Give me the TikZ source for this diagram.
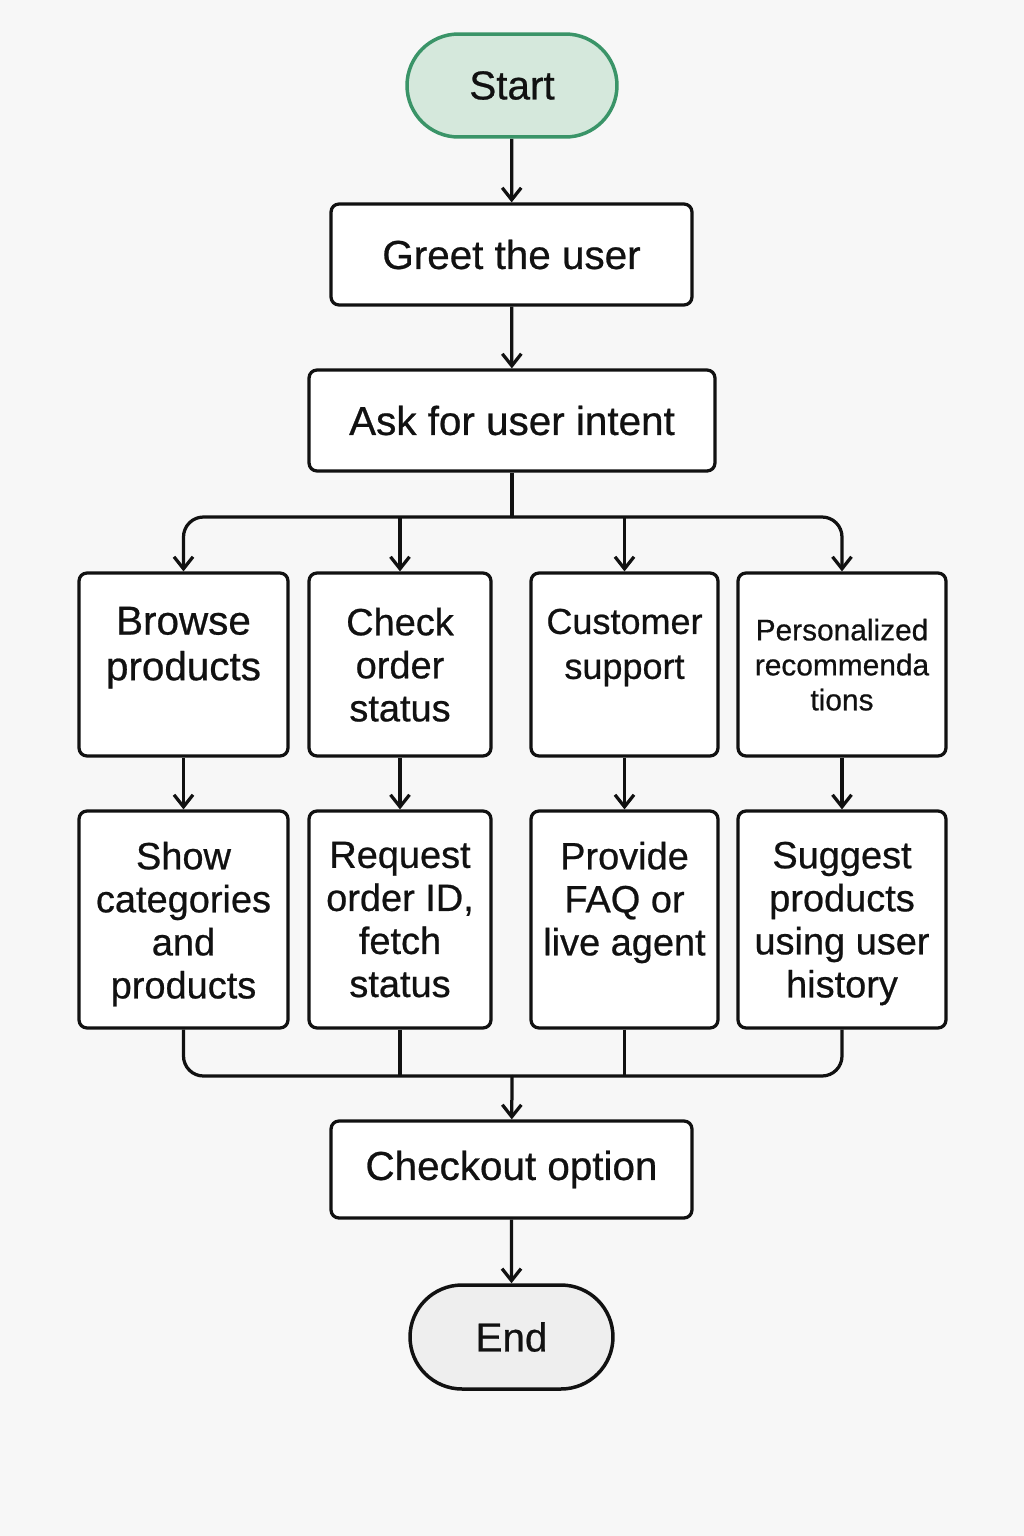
\documentclass[tikz,border=0pt]{standalone}
\usepackage{fontspec}
\setmainfont{Liberation Sans}[FakeBold=0.6]
\usetikzlibrary{arrows.meta, positioning, shapes.misc}

\definecolor{bg}{HTML}{F7F7F7}
\definecolor{startfill}{HTML}{D5E8DC}
\definecolor{startline}{HTML}{3A9468}
\definecolor{endfill}{HTML}{EEEEEE}
\definecolor{ink}{HTML}{111111}

\newcommand{\mainsize}{\fontsize{23}{26}\selectfont}
\newcommand{\colsize}{\fontsize{21.6}{24.5}\selectfont}

\tikzset{
  box/.style={draw=ink, line width=0.065cm, rounded corners=0.16cm, fill=white, inner sep=0pt, text=ink},
  terminal/.style={rounded rectangle, line width=0.07cm, inner sep=0pt, text=ink, font=\mainsize},
  boxtext/.style={anchor=north, align=center, inner sep=0pt, text=ink, font=\colsize},
  flow/.style={draw=ink, line width=0.065cm, -{Straight Barb[length=0.24cm, width=0.38cm, line width=0.065cm]}},
  wire/.style={draw=ink, line width=0.065cm, rounded corners=0.4cm},
}

\begin{document}
\begin{tikzpicture}[x=0.02cm, y=-0.02cm]

% ========== canvas ==========
\fill[bg] (0,0) rectangle (1024,1536);
\useasboundingbox (0,0) rectangle (1024,1536);

% ========== main column ==========
\node[terminal, fill=startfill, draw=startline, minimum width=4.2cm, minimum height=2.06cm] (start) at (512,85.5) {Start};
\node[box, minimum width=7.22cm, minimum height=2.02cm, font=\mainsize] (greet) at (511.5,254.5) {Greet the user};
\node[box, minimum width=8.12cm, minimum height=2.02cm, font=\mainsize] (ask) at (512,420.5) {Ask for user intent};

% ========== intent branches ==========
\node[box, minimum width=4.18cm, minimum height=3.66cm] (browse) at (183.5,664.5) {};
\node[box, minimum width=3.64cm, minimum height=3.66cm] (check) at (400,664.5) {};
\node[box, minimum width=3.74cm, minimum height=3.66cm] (support) at (624.5,664.5) {};
\node[box, minimum width=4.16cm, minimum height=3.66cm] (personal) at (842,664.5) {};

\node[boxtext, font=\mainsize] (browsetxt) at ([yshift=-0.7cm]browse.north) {Browse\\products};
\node[boxtext] (checktxt) at ([yshift=-0.72cm]check.north) {Check\\order\\status};
\node[boxtext, font=\fontsize{20.5}{25.6}\selectfont] (supporttxt) at ([yshift=-0.74cm]support.north) {Customer\\support};
\node[boxtext, font=\fontsize{17}{19.9}\selectfont] (personaltxt) at ([yshift=-0.94cm]personal.north) {Personalized\\recommenda\\tions};

% ========== actions ==========
\node[box, minimum width=4.18cm, minimum height=4.34cm] (showcat) at (183.5,919.5) {};
\node[box, minimum width=3.64cm, minimum height=4.34cm] (request) at (400,919.5) {};
\node[box, minimum width=3.74cm, minimum height=4.34cm] (faq) at (624.5,919.5) {};
\node[box, minimum width=4.16cm, minimum height=4.34cm] (suggest) at (842,919.5) {};

\node[boxtext] (showcattxt) at ([yshift=-0.64cm]showcat.north) {Show\\categories\\and\\products};
\node[boxtext] (requesttxt) at ([yshift=-0.64cm]request.north) {Request\\order ID,\\fetch\\status};
\node[boxtext] (faqtxt) at ([yshift=-0.64cm]faq.north) {Provide\\FAQ or\\live agent};
\node[boxtext] (suggesttxt) at ([yshift=-0.64cm]suggest.north) {Suggest\\products\\using user\\history};

% ========== end ==========
\node[box, minimum width=7.22cm, minimum height=1.94cm, font=\mainsize] (checkout) at (511.5,1169.5) {Checkout option};
\node[terminal, fill=endfill, draw=ink, minimum width=4.06cm, minimum height=2.08cm] (finish) at (511.5,1337) {End};

% ========== connectors ==========
\coordinate (fork) at (512,517);
\coordinate (join) at (512,1076);

\draw[flow] (start) -- (greet);
\draw[flow] (greet) -- (ask);
\draw[wire] (ask.south) -- (fork);
\draw[flow, rounded corners=0.4cm] (fork) -| (browse.north);
\draw[flow, rounded corners=0.4cm] (fork) -| (personal.north);
\foreach \n in {check, support} {
  \draw[flow] (\n.north |- fork) -- (\n.north);
}

\draw[flow] (browse) -- (showcat);
\draw[flow] (check) -- (request);
\draw[flow] (support) -- (faq);
\draw[flow] (personal) -- (suggest);

\draw[wire] (showcat.south) |- (join);
\draw[wire] (suggest.south) |- (join);
\foreach \n in {request, faq} {
  \draw[wire] (\n.south) -- (\n.south |- join);
}
\draw[flow] (join) -- (checkout);
\draw[flow] (checkout) -- (finish);

\end{tikzpicture}
\end{document}
